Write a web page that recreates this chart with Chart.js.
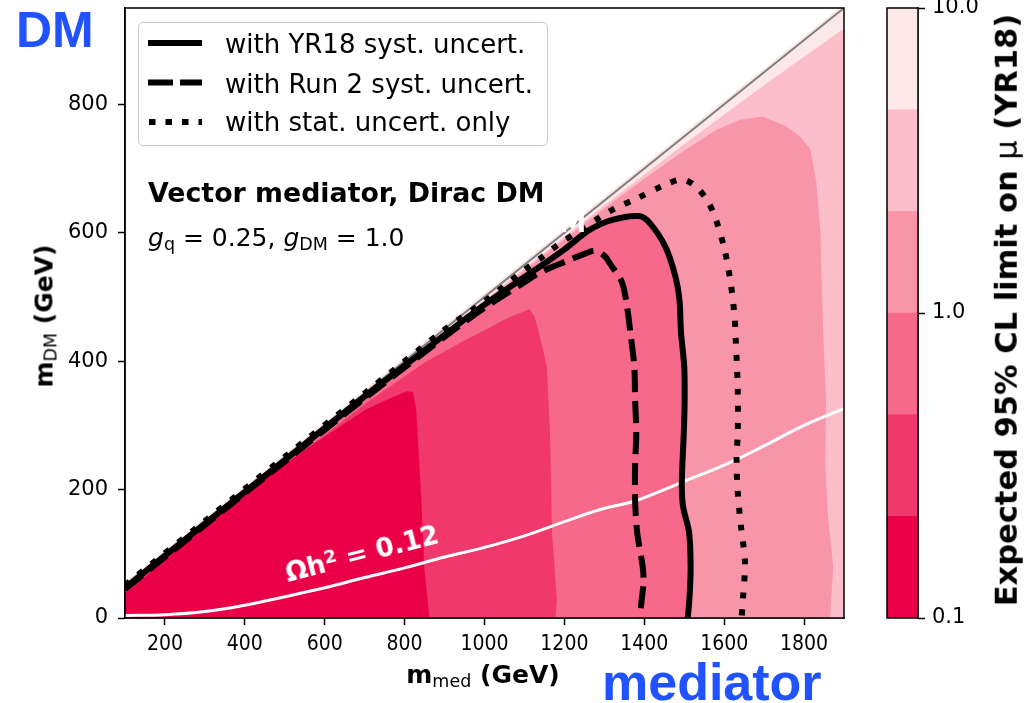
<!DOCTYPE html>
<html><head><meta charset="utf-8">
<script src="https://cdn.jsdelivr.net/npm/chart.js@4.4.0/dist/chart.umd.min.js"></script>
<style>
html,body{margin:0;padding:0;background:#fff;}
#wrap{position:relative;width:1035px;height:703px;overflow:hidden;font-family:'DejaVu Sans',sans-serif;color:#000;}
canvas{position:absolute;}
.t{position:absolute;white-space:nowrap;line-height:1;}
.sb{font-size:0.7em;position:relative;top:0.22em;font-weight:normal;}
.sp{font-size:0.7em;position:relative;top:-0.45em;}
</style></head><body>
<div id="wrap">
<canvas id="main" width="1035" height="703" style="left:0;top:0;width:1035px;height:703px"></canvas>
<canvas id="cbar" width="140" height="703" style="left:850px;top:0;width:140px;height:703px"></canvas>

<div class="t" style="left:16px;top:5px;font:bold 50px/1 'Liberation Sans',Arial,sans-serif;color:#2152FF">DM</div>
<div class="t" style="left:602px;top:656px;font:bold 52px/1 'Liberation Sans',Arial,sans-serif;color:#2152FF">mediator</div>

<div style="position:absolute;left:138px;top:22px;width:410px;height:124px;box-sizing:border-box;border:1px solid #cccccc;border-radius:5px;background:rgba(255,255,255,0.8)"></div>
<svg style="position:absolute;left:148px;top:0" width="56" height="150">
 <line x1="0" y1="43" x2="54" y2="43" stroke="#000" stroke-width="6"/>
 <line x1="0" y1="82.5" x2="54" y2="82.5" stroke="#000" stroke-width="6" stroke-dasharray="25 7"/>
 <line x1="1" y1="122" x2="54" y2="122" stroke="#000" stroke-width="6" stroke-dasharray="6.5 10"/>
</svg>
<div class="t" style="left:225px;top:31px;font-size:26px">with YR18 syst. uncert.</div>
<div class="t" style="left:225px;top:70.5px;font-size:26px">with Run 2 syst. uncert.</div>
<div class="t" style="left:225px;top:109px;font-size:26px">with stat. uncert. only</div>

<div class="t" style="left:148px;top:180px;font-size:26.8px;font-weight:bold">Vector mediator, Dirac DM</div>
<div class="t" style="left:148px;top:225px;font-size:25px"><i>g</i><span class="sb">q</span> = 0.25, <i>g</i><span class="sb">DM</span> = 1.0</div>

<div class="t" style="left:288px;top:560px;font-size:26px;font-weight:bold;color:#fff;transform-origin:0px 22px;transform:rotate(-14.5deg)">Ωh<span class="sp">2</span> = 0.12</div>

<div class="t" style="left:44px;top:316px;font-size:25px;font-weight:bold;transform:translate(-50%,-50%) rotate(-90deg)">m<span class="sb">DM</span> (GeV)</div>
<div class="t" style="left:483px;top:662px;font-size:25px;font-weight:bold;transform:translateX(-50%)">m<span class="sb">med</span> (GeV)</div>
<div class="t" style="left:1007px;top:310px;font-size:30.5px;font-weight:bold;transform:translate(-50%,-50%) rotate(-90deg)">Expected 95% CL limit on <span style="font-weight:normal">μ</span> (YR18)</div>
</div>
<script>
// ---- data (GeV) ----
const xTicks = [200, 400, 600, 800, 1000, 1200, 1400, 1600, 1800];
const yTicks = [0, 200, 400, 600, 800];
const cbTicks = [0.1, 1, 10];
const cbLevels = [0.1, 0.2154, 0.4642, 1, 2.154, 4.642, 10];

// filled contour regions (mu-limit bands), outline points [m_med, m_DM]
const band5 = [[100,0],[100,56],[1900,956],[1900,0]];
const band4 = [[100,0],[100,49],[600,297],[1000,495],[1300,643],[1500,738],[1700,830],[1900,918],[1900,0]];
const band3 = [[100,0],[100,47],[600,296],[1000,493],[1300,638],[1400,684],[1500,728],[1580,760],[1640,776],[1697,781],[1755,766],[1790,750],[1816,730],[1831,678],[1841,600],[1848,444],[1855,340],[1853,237],[1860,159],[1873,80],[1865,0]];
const band2 = [[100,0],[100,46],[400,195],[700,344],[1000,488],[1100,530],[1180,565],[1262,600],[1320,617],[1387,622],[1412,612],[1450,576],[1475,530],[1486,496],[1490,444],[1498,392],[1499,340],[1497,289],[1492,211],[1495,174],[1510,134],[1514,80],[1511,29],[1506,0]];
const band1 = [[100,0],[100,44],[300,141],[500,238],[700,333],[850,398],[950,432],[1000,448],[1060,468],[1113,481],[1125,470],[1136,445],[1156,392],[1164,289],[1169,134],[1181,30],[1178,0]];
const band0 = [[100,0],[100,38],[250,116],[414,200],[550,262],[704,325],[760,341],[805,353],[821,352],[829,325],[842,184],[849,80],[862,0]];

// exclusion contours (mu = 1)
const yr18 = [[100,47],[300,147],[500,246],[700,345],[900,441],[1000,488],[1100,531],[1150,552],[1200,574],[1262,604],[1320,620],[1387,626],[1414,615],[1453,578],[1478,532],[1488,496],[1492,444],[1500,392],[1501,340],[1499,289],[1494,211],[1497,174],[1512,134],[1516,80],[1513,29],[1508,-5]];
const run2 = [[100,45],[300,145],[500,244],[700,342],[900,438],[1000,483],[1100,523],[1139,538],[1206,556],[1250,567],[1277,572],[1300,564],[1315,551],[1344,523],[1358,480],[1365,445],[1375,392],[1377,340],[1380,289],[1377,237],[1377,185],[1382,134],[1396,80],[1398,55],[1392,20],[1389,-5]];
const statOnly = [[100,51],[300,151],[500,251],[700,350],[900,449],[1000,493],[1100,542],[1144,562],[1181,580],[1240,604],[1294,626],[1327,638],[1377,652],[1453,675],[1496,683],[1529,672],[1559,649],[1579,621],[1601,574],[1616,523],[1626,470],[1629,434],[1634,356],[1634,289],[1631,247],[1634,196],[1642,143],[1652,87],[1647,29],[1643,-5]];

// relic density curve and kinematic diagonal
const relic = [[100,4],[200,5],[300,10],[400,20],[500,33],[600,47],[700,63],[800,78],[900,95],[1000,110],[1100,128],[1200,150],[1290,169],[1370,181],[1450,200],[1500,213],[1600,238],[1700,268],[1800,300],[1900,326]];
const diag = [[100,50],[1900,950]];

// ---- styles ----
const bandColors = ['#EA0046','#F0386A','#F7698B','#F995A8','#FDBECC','#FDE8E9'];
const bands = [band0, band1, band2, band3, band4, band5];

Chart.defaults.font.family = "'DejaVu Sans', sans-serif";
Chart.defaults.color = '#000';

const pts = a => a.map(p => ({x: p[0], y: p[1]}));
const datasets = [];
bands.forEach((b, i) => {
  datasets.push({data: pts(b), fill: 'shape', backgroundColor: bandColors[i], borderColor: 'transparent', borderWidth: 0, pointRadius: 0, tension: 0, order: 15 + i});
});
datasets.push({data: pts(relic), borderColor: '#ffffff', borderWidth: 3, pointRadius: 0, tension: 0.4, fill: false, order: 10});
datasets.push({data: pts(diag), borderColor: '#808080', borderWidth: 2, pointRadius: 0, fill: false, order: 9});
datasets.push({data: pts(statOnly), borderColor: '#000', borderWidth: 6, borderDash: [6, 11], borderCapStyle: 'butt', pointRadius: 0, tension: 0.3, fill: false, order: 3});
datasets.push({data: pts(run2), borderColor: '#000', borderWidth: 6, borderDash: [22, 9], borderCapStyle: 'butt', pointRadius: 0, tension: 0.3, fill: false, order: 2});
datasets.push({data: pts(yr18), borderColor: '#000', borderWidth: 6, borderJoinStyle: 'round', pointRadius: 0, tension: 0.3, fill: false, order: 1});

const noPad = s => { s.paddingTop = 0; s.paddingBottom = 0; s.paddingLeft = 0; s.paddingRight = 0; };

const framePlugin = {
  id: 'frame',
  afterDatasetsDraw(chart) {
    if (chart.canvas.id === 'main') {
      const ctx = chart.ctx, xs = chart.scales.x, ys = chart.scales.y;
      ctx.save();
      ctx.font = "bold 28px 'DejaVu Sans'";
      ctx.fillStyle = '#ffffff';
      ctx.textBaseline = 'alphabetic';
      ctx.fillText('DM', xs.getPixelForValue(1127), ys.getPixelForValue(601));
      ctx.restore();
    }
  },
  afterDraw(chart) {
    const {ctx, chartArea: a} = chart;
    ctx.save();
    ctx.strokeStyle = '#000';
    ctx.lineWidth = 1.5;
    ctx.strokeRect(a.left, a.top, a.right - a.left, a.bottom - a.top);
    ctx.restore();
  }
};

new Chart(document.getElementById('main'), {
  type: 'line',
  data: {datasets},
  plugins: [framePlugin],
  options: {
    responsive: false, animation: false, devicePixelRatio: 1,
    layout: {padding: {left: 0, top: 8, right: 191, bottom: 0}},
    plugins: {legend: {display: false}, tooltip: {enabled: false}},
    scales: {
      x: {
        type: 'linear', min: 100, max: 1900,
        afterBuildTicks: s => { s.ticks = xTicks.map(v => ({value: v})); },
        afterFit: s => { s.height = 85; noPad(s); },
        ticks: {font: {family: "'DejaVu Sans Condensed', 'DejaVu Sans'", size: 21}, color: '#000', padding: 7, maxRotation: 0, autoSkip: false, callback: v => String(v)},
        grid: {drawOnChartArea: false, drawTicks: true, tickLength: 7, tickColor: '#000', tickWidth: 1.5},
        border: {display: true, color: '#000', width: 1.5}
      },
      y: {
        type: 'linear', min: 0, max: 950,
        afterBuildTicks: s => { s.ticks = yTicks.map(v => ({value: v})); },
        afterFit: s => { s.width = 125; noPad(s); },
        ticks: {font: {size: 21}, color: '#000', padding: 10, callback: v => String(v)},
        grid: {drawOnChartArea: false, drawTicks: true, tickLength: 7, tickColor: '#000', tickWidth: 1.5},
        border: {display: true, color: '#000', width: 1.5}
      }
    }
  }
});

new Chart(document.getElementById('cbar'), {
  type: 'bar',
  data: {
    labels: [''],
    datasets: bandColors.map((c, i) => ({data: [[cbLevels[i], cbLevels[i + 1]]], backgroundColor: c, borderWidth: 0, grouped: false, barPercentage: 1, categoryPercentage: 1}))
  },
  plugins: [framePlugin],
  options: {
    responsive: false, animation: false, devicePixelRatio: 1,
    layout: {padding: {left: 37, top: 8, right: 0, bottom: 85}},
    plugins: {legend: {display: false}, tooltip: {enabled: false}},
    scales: {
      x: {display: false},
      y: {
        type: 'logarithmic', position: 'right', min: 0.1, max: 10,
        afterBuildTicks: s => { s.ticks = cbTicks.map(v => ({value: v})); },
        afterFit: s => { s.width = 72; noPad(s); },
        ticks: {font: {size: 21}, color: '#000', padding: 7, callback: v => Number(v).toFixed(1)},
        grid: {drawOnChartArea: false, drawTicks: true, tickLength: 7, tickColor: '#000', tickWidth: 1.5},
        border: {display: true, color: '#000', width: 1.5}
      }
    }
  }
});
</script>
</body></html>
